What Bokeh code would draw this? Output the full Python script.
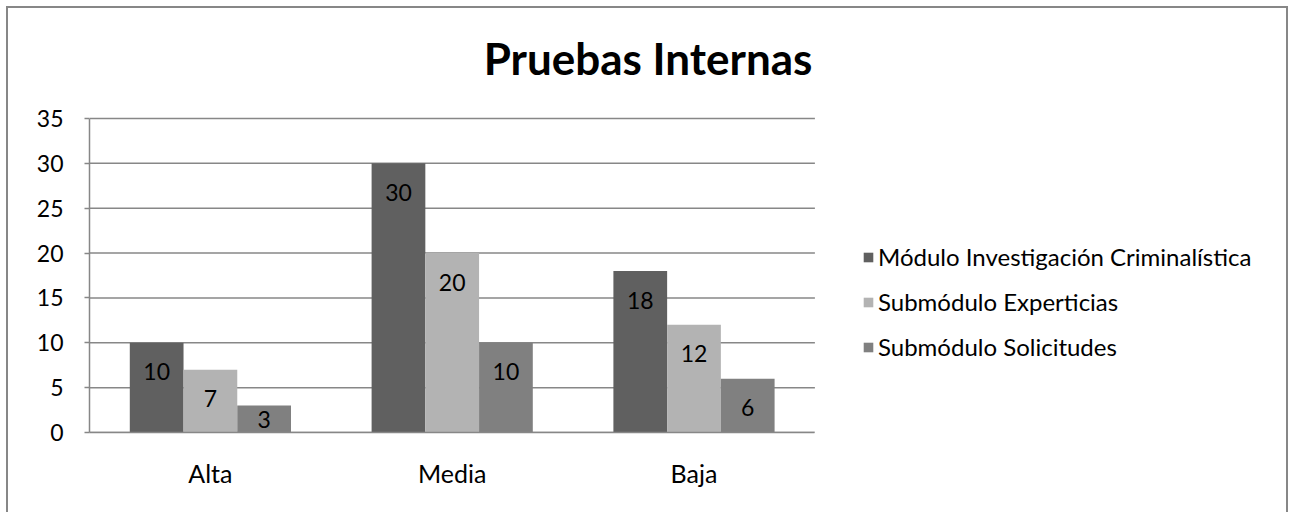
from bokeh.plotting import figure
from bokeh.models import (ColumnDataSource, Range1d, FixedTicker, Legend,
                          LegendItem, LabelSet, Label)
from bokeh.core.properties import value
from bokeh.embed import file_html
from bokeh.resources import INLINE

# ---------------- data ----------------
categories = ["Alta", "Media", "Baja"]
series_names = ["Módulo Investigación Criminalística", "Submódulo Experticias", "Submódulo Solicitudes"]
modulo = [10, 30, 18]
experticias = [7, 20, 12]
solicitudes = [3, 10, 6]
y_ticks = [0, 5, 10, 15, 20, 25, 30, 35]
title_text = "Pruebas Internas"

colors = ["#606060", "#b3b3b3", "#808080"]
FONT = "Lato"

# ---------------- layout (pixels) ----------------
W, H = 1282, 506
ML, MR, MT, MB = 81, 0, 0, 82
frame_w = 1202              # effective frame width in pixels
frame_h = H - MT - MB       # 424
plot_px_w = 726             # width of the category area
plot_px_h = 314             # height from 0 to 35
y_max = y_ticks[-1]
n_cat = len(categories)
X_END = n_cat * frame_w / plot_px_w
Y_END = y_max * frame_h / plot_px_h
px_per_unit = plot_px_h / y_max
frame_bottom_px = 432

p = figure(width=W, height=H, x_range=Range1d(0, X_END), y_range=Range1d(0, Y_END),
           output_backend="svg", toolbar_location=None,
           min_border_left=ML, min_border_right=MR, min_border_top=MT, min_border_bottom=MB)
p.styles = {"border-top": "2px solid #878787", "border-left": "2px solid #878787",
            "border-right": "2px solid #878787", "margin-left": "6px", "margin-top": "6px",
            "box-sizing": "border-box"}
p.outline_line_color = None
p.background_fill_color = "white"
p.border_fill_color = "white"
p.xgrid.grid_line_color = None
p.ygrid.grid_line_color = None

# horizontal grid lines across the category area only
p.segment(x0=[0] * len(y_ticks), x1=[n_cat] * len(y_ticks), y0=y_ticks, y1=y_ticks,
          line_color="#878787", line_width=1.5)

bw = 1 / 4.5
offsets = [-bw, 0, bw]
series = [modulo, experticias, solicitudes]
cat_centers = [i + 0.5 for i in range(n_cat)]
items = []
for name, vals, col, off in zip(series_names, series, colors, offsets):
    lab_off = []
    for v in vals:
        hpx = v * px_per_unit
        if hpx >= 36:
            lab_off.append(-min(29, hpx - 18))
        else:
            lab_off.append(-hpx / 2)
    xs = [c + off for c in cat_centers]
    src = ColumnDataSource(dict(x=xs, val=vals, txt=[str(v) for v in vals], yoff=lab_off))
    r = p.vbar(x="x", top="val", width=bw, source=src, fill_color=col, line_color=None)
    items.append(LegendItem(label=name, renderers=[r]))
    ls = LabelSet(x="x", y="val", text="txt", source=src,
                  y_offset="yoff", text_align="center", text_baseline="middle",
                  text_font=value(FONT), text_font_size="23px", text_color="#000000")
    p.add_layout(ls)

# axes
p.yaxis.ticker = FixedTicker(ticks=y_ticks)
p.yaxis.bounds = (0, y_max)
p.yaxis.axis_line_color = "#878787"
p.yaxis.axis_line_width = 1.5
p.yaxis.major_tick_line_color = "#878787"
p.yaxis.major_tick_line_width = 1.5
p.yaxis.major_tick_out = 5
p.yaxis.major_tick_in = 0
p.yaxis.minor_tick_line_color = None
p.yaxis.major_label_standoff = 21
p.yaxis.major_label_text_font = FONT
p.yaxis.major_label_text_font_size = "23px"
p.yaxis.major_label_text_color = "#000000"

p.xaxis.ticker = FixedTicker(ticks=cat_centers)
p.xaxis.major_label_overrides = {c: name for c, name in zip(cat_centers, categories)}
p.xaxis.bounds = (0, n_cat)
p.xaxis.axis_line_color = "#878787"
p.xaxis.axis_line_width = 1.5
p.xaxis.major_tick_line_color = None
p.xaxis.minor_tick_line_color = None
p.xaxis.major_label_standoff = 19
p.xaxis.major_label_text_font = FONT
p.xaxis.major_label_text_font_size = "25px"
p.xaxis.major_label_text_color = "#000000"

# title, centred on the whole chart
title = Label(x=(648 - 8 - ML) / (plot_px_w / n_cat), y=(frame_bottom_px - 57) / px_per_unit,
              text=title_text, text_font=FONT, text_font_style="bold", text_font_size="44px",
              text_color="#000000", text_align="center", text_baseline="middle")
p.add_layout(title)

legend = Legend(items=items, location=(773, 71), orientation="vertical",
                label_text_font=FONT, label_text_font_size="24px", label_text_color="#000000",
                glyph_width=12, glyph_height=12, label_standoff=4, spacing=16,
                padding=0, margin=0, border_line_color=None, background_fill_alpha=0)
p.add_layout(legend, "center")

open("out.html", "w").write(file_html(p, INLINE))
